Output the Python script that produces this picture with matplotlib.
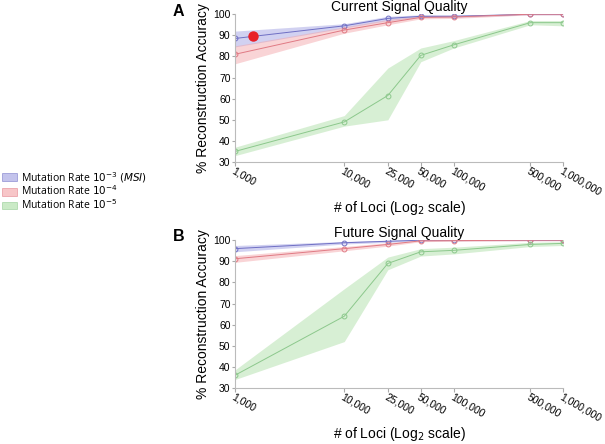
import numpy as np
import matplotlib.pyplot as plt
from matplotlib.patches import Patch

plt.rcParams['font.family'] = ['Liberation Sans', 'DejaVu Sans']

loci = [1000, 10000, 25000, 50000, 100000, 500000, 1000000]
loci_labels = ['1,000', '10,000', '25,000', '50,000', '100,000', '500,000', '1,000,000']

# panel A - current signal quality
cur_msi = [88.5, 94.5, 98, 99, 99, 100, 100]
cur_msi_lo = [84.5, 93.5, 97, 98.5, 98.5, 99.7, 99.7]
cur_msi_hi = [92, 95.5, 99, 99.7, 99.7, 100, 100]
cur_m4 = [81, 92.5, 96, 98.5, 98.7, 100, 100]
cur_m4_lo = [76.5, 91, 95, 97.8, 98, 99.7, 99.7]
cur_m4_hi = [85, 94, 97.5, 99.3, 99.3, 100, 100]
cur_m5 = [35, 49, 61.5, 80.5, 85.5, 96, 96]
cur_m5_lo = [33, 47, 50, 77.5, 84, 95, 94.5]
cur_m5_hi = [37, 52, 74.5, 84, 87.5, 97, 97]
red_dot = (1460, 89.5)

# panel B - future signal quality
fut_msi = [96, 98.8, 99.5, 100, 100, 100, 100]
fut_msi_lo = [94.5, 98.2, 99, 99.7, 99.7, 99.8, 99.8]
fut_msi_hi = [97.5, 99.4, 100, 100, 100, 100, 100]
fut_m4 = [91.2, 96, 98, 99.7, 99.8, 100, 100]
fut_m4_lo = [89.5, 95, 97.2, 99.3, 99.5, 99.7, 99.7]
fut_m4_hi = [92.7, 97, 98.8, 100, 100, 100, 100]
fut_m5 = [36, 64, 89, 94.5, 95.2, 98, 98.5]
fut_m5_lo = [34, 52, 86, 92.5, 93.5, 97, 97.5]
fut_m5_hi = [38.5, 77, 92, 96, 96.7, 99, 99.3]

series_colors = ['#6f6fc4', '#e07a84', '#8cc88c']
fill_colors = ['#9b9be0', '#f3a0a4', '#a8dca0']
legend_labels = [r'Mutation Rate $10^{-3}$ $(MSI)$', r'Mutation Rate $10^{-4}$', r'Mutation Rate $10^{-5}$']

fig = plt.figure(figsize=(6.05, 4.44), dpi=100)
ax1 = fig.add_axes([0.388, 0.635, 0.543, 0.333])
ax2 = fig.add_axes([0.388, 0.126, 0.543, 0.333])


def draw_panel(ax, data, title):
    for (m, lo, hi), c, fc in zip(data, series_colors, fill_colors):
        ax.fill_between(loci, lo, hi, color=fc, alpha=0.45, lw=0)
        ax.plot(loci, m, color=c, lw=0.7, marker='o', ms=3.5, mfc='none', mec=c, mew=0.7)
    ax.set_xscale('log', base=2)
    ax.set_xlim(1000, 1000000)
    ax.set_ylim(30, 100)
    ax.set_xticks(loci)
    ax.set_xticklabels(loci_labels, rotation=-30, ha='left', va='top', rotation_mode='anchor', fontsize=7.5)
    ax.minorticks_off()
    ax.set_yticks(range(30, 101, 10))
    ax.tick_params(axis='y', labelsize=7.5, length=2, color='#aaaaaa', pad=1)
    ax.tick_params(axis='x', length=3, color='#aaaaaa', pad=0)
    for s in ['top', 'right']:
        ax.spines[s].set_visible(False)
    for s in ['left', 'bottom']:
        ax.spines[s].set_color('#bbbbbb')
        ax.spines[s].set_linewidth(0.8)
    ax.set_ylabel('% Reconstruction Accuracy', fontsize=10, labelpad=2)
    ax.set_xlabel('# of Loci (Log$_2$ scale)', fontsize=10, labelpad=1)
    ax.set_title(title, fontsize=10, pad=-2)


draw_panel(ax1, [(cur_msi, cur_msi_lo, cur_msi_hi), (cur_m4, cur_m4_lo, cur_m4_hi),
                 (cur_m5, cur_m5_lo, cur_m5_hi)], 'Current Signal Quality')
ax1.plot([red_dot[0]], [red_dot[1]], 'o', color='#e8202a', ms=6.5, clip_on=False)
draw_panel(ax2, [(fut_msi, fut_msi_lo, fut_msi_hi), (fut_m4, fut_m4_lo, fut_m4_hi),
                 (fut_m5, fut_m5_lo, fut_m5_hi)], 'Future Signal Quality')

fig.text(0.286, 0.991, 'A', fontsize=11.5, fontweight='bold', va='top')
fig.text(0.286, 0.484, 'B', fontsize=11.5, fontweight='bold', va='top')

handles = [Patch(facecolor=fc, edgecolor=c, alpha=0.6, lw=0.6) for c, fc in zip(series_colors, fill_colors)]
fig.legend(handles, legend_labels, loc='center left', bbox_to_anchor=(-0.012, 0.57), frameon=False,
           handlelength=1.45, handleheight=0.8, handletextpad=0.4, labelspacing=0.0,
           prop={'family': ['Open Sans', 'DejaVu Sans'], 'size': 7.5})

fig.savefig('out.png', dpi=100)
